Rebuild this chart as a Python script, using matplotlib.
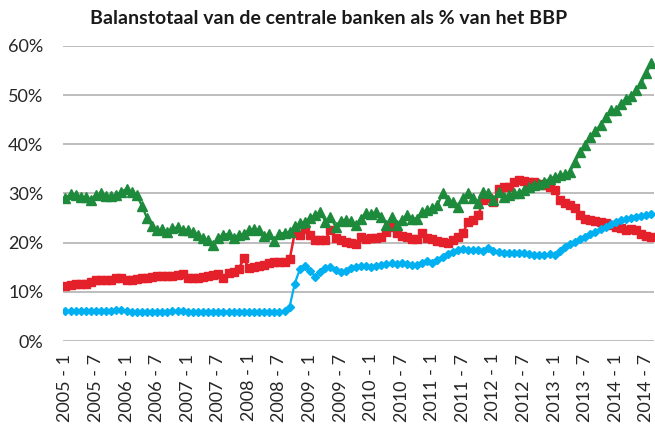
import matplotlib
matplotlib.use("Agg")
import matplotlib.pyplot as plt
from matplotlib.ticker import FuncFormatter

plt.rcParams['font.family'] = ['Lato', 'DejaVu Sans']

title = "Balanstotaal van de centrale banken als % van het BBP"

tick_labels = ["2005 - 1", "2005 - 7", "2006 - 1", "2006 - 7", "2007 - 1", "2007 - 7",
               "2008 - 1", "2008 - 7", "2009 - 1", "2009 - 7", "2010 - 1", "2010 - 7",
               "2011 - 1", "2011 - 7", "2012 - 1", "2012 - 7", "2013 - 1", "2013 - 7",
               "2014 - 1", "2014 - 7"]

green = [29.0, 29.9, 29.7, 29.2, 29.2, 28.7, 29.7, 30.0, 29.4, 29.4,
         29.7, 30.4, 30.9, 30.2, 29.6, 27.5, 25.0, 23.3, 22.5, 22.7,
         22.2, 22.9, 23.1, 22.6, 22.6, 22.2, 21.6, 20.9, 20.6, 19.6,
         20.9, 21.6, 21.8, 20.9, 21.6, 21.8, 22.6, 22.7, 22.6, 21.4,
         21.8, 20.3, 21.8, 22.0, 22.2, 23.3, 23.9, 24.3, 25.0, 25.6,
         26.3, 24.3, 25.3, 23.2, 24.5, 24.7, 24.5, 23.6, 24.9, 26.1,
         25.8, 26.3, 25.3, 23.6, 25.3, 23.6, 24.6, 25.6, 24.9, 24.9,
         26.3, 26.6, 27.0, 27.6, 30.0, 28.6, 28.3, 27.3, 29.0, 30.0,
         29.0, 28.0, 30.3, 30.0, 28.6, 30.3, 29.3, 29.7, 30.0, 30.1,
         30.7, 31.4, 31.7, 32.0, 32.4, 33.0, 33.4, 33.7, 33.9, 34.4,
         36.4, 38.4, 39.8, 41.5, 42.8, 43.9, 45.5, 46.9, 46.9, 48.2,
         49.3, 49.8, 51.0, 52.5, 54.5, 56.5]

red = [11.2, 11.4, 11.6, 11.7, 11.7, 12.1, 12.4, 12.4, 12.4, 12.5,
       12.75, 12.9, 12.5, 12.5, 12.6, 12.75, 12.9, 13.1, 13.2, 13.2,
       13.2, 13.2, 13.4, 13.6, 12.75, 12.75, 12.9, 13.1, 13.2, 13.4,
       13.6, 12.75, 13.9, 14.1, 14.6, 16.8, 14.8, 15.0, 15.3, 15.5,
       15.8, 16.0, 16.1, 16.1, 16.6, 22.0, 21.6, 22.7, 21.6, 20.5,
       20.5, 20.5, 22.6, 20.9, 20.5, 20.2, 20.0, 19.7, 21.2, 20.7,
       20.9, 20.9, 21.2, 22.2, 23.2, 21.9, 21.4, 21.2, 20.7, 20.7,
       22.0, 20.9, 20.7, 20.4, 20.2, 20.0, 20.5, 21.1, 21.9, 24.3,
       24.6, 25.6, 28.6, 29.0, 28.3, 31.0, 31.4, 31.4, 32.4, 32.7,
       32.6, 32.4, 32.4, 32.0, 31.7, 31.4, 30.7, 28.6, 28.0, 27.6,
       27.0, 25.6, 24.9, 24.7, 24.5, 24.3, 23.9, 23.6, 23.2, 22.9,
       22.6, 22.7, 22.6, 21.8, 21.4, 21.1]

blue = [6.1, 6.1, 6.1, 6.1, 6.2, 6.2, 6.2, 6.2, 6.2, 6.2,
        6.3, 6.4, 6.1, 6.0, 6.0, 6.0, 6.0, 6.0, 6.0, 6.0,
        6.0, 6.1, 6.1, 6.2, 6.0, 6.0, 5.9, 5.9, 5.9, 5.9,
        6.0, 6.0, 6.0, 6.0, 6.0, 6.0, 6.0, 6.0, 6.0, 6.0,
        6.0, 6.0, 6.0, 6.1, 7.0, 11.7, 14.6, 15.2, 14.3, 13.1,
        14.0, 14.8, 15.1, 14.5, 14.0, 14.3, 14.8, 15.0, 15.3, 15.2,
        15.0, 15.3, 15.5, 15.6, 15.8, 15.7, 15.8, 15.7, 15.5, 15.5,
        15.8, 16.3, 15.9, 16.4, 17.0, 17.6, 18.1, 18.5, 18.7, 18.6,
        18.5, 18.5, 18.4, 18.9, 18.3, 18.1, 18.0, 17.9, 17.8, 17.8,
        17.8, 17.6, 17.4, 17.4, 17.5, 17.7, 17.5, 18.4, 19.1, 19.8,
        20.2, 20.7, 21.2, 21.7, 22.2, 22.7, 23.2, 23.8, 24.3, 24.6,
        24.9, 25.1, 25.3, 25.4, 25.6, 25.8]

x = list(range(len(green)))
tick_pos = [i * 6 for i in range(len(tick_labels))]

fig = plt.figure(figsize=(6.55, 4.29), dpi=100)
ax = fig.add_axes([0.096, 0.205, 0.9025, 0.688])

ax.plot(x, red, color='#e4202b', marker='s', markersize=5.5, linewidth=1.8, zorder=3)
ax.plot(x, green, color='#1e8a3c', marker='^', markersize=6.5, linewidth=1.6, zorder=4)
ax.plot(x, blue, color='#00b0f0', marker='D', markersize=4, linewidth=1.6, zorder=5)

ax.set_ylim(0, 60)
ax.set_yticks(range(0, 61, 10))
ax.yaxis.set_major_formatter(FuncFormatter(lambda v, p: f"{int(v)}%"))
ax.set_xlim(-0.5, len(x) - 0.5)
ax.set_xticks(tick_pos)
ax.set_xticklabels(tick_labels, rotation=90)

ax.grid(axis='y', color='#b8b8b8', linewidth=1.3)
ax.set_axisbelow(True)
for s in ax.spines.values():
    s.set_visible(False)
ax.tick_params(axis='both', length=0, colors='#262626', labelsize=13)
ax.tick_params(axis='y', pad=14)
ax.tick_params(axis='x', pad=9)

fig.text(0.502, 0.956, title, ha='center', va='center', fontsize=14,
         fontweight='bold', color='#1a1a1a')

fig.savefig('out.png', dpi=100)
